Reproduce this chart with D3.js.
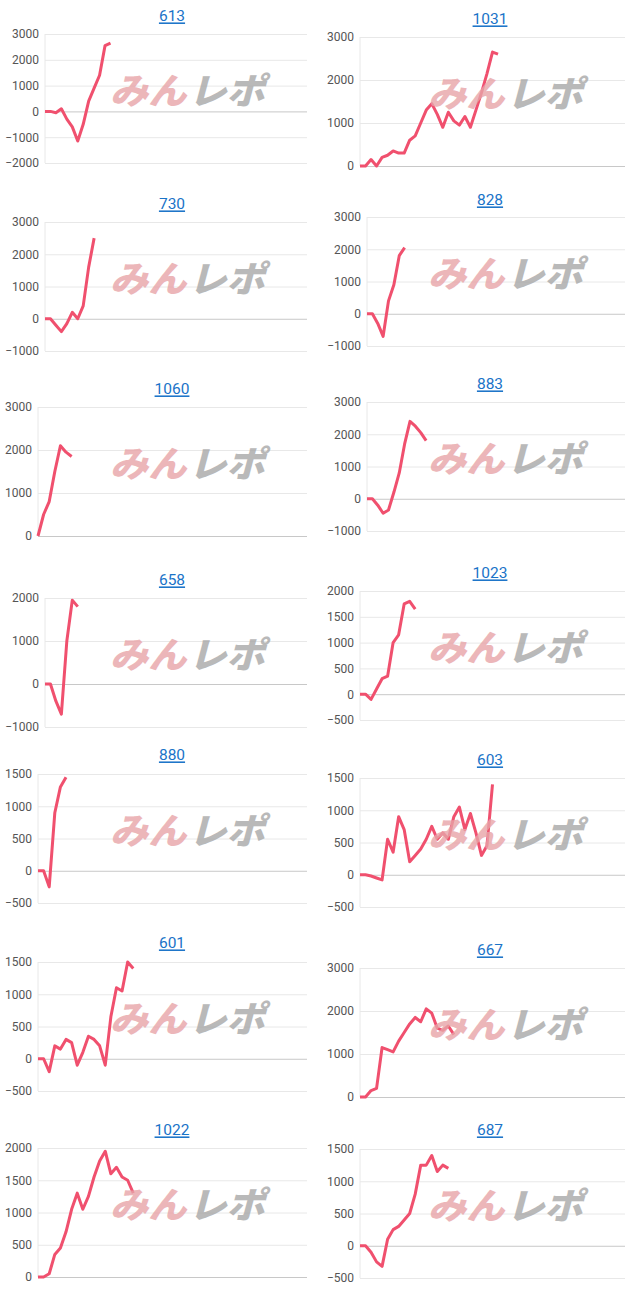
<!DOCTYPE html>
<html><head><meta charset="utf-8">
<script src="https://cdn.jsdelivr.net/npm/d3@7"></script>
<style>body{margin:0;background:#fff;font-family:Roboto,Arial,sans-serif}</style>
</head><body><svg id="c" width="640" height="1303"></svg>
<script>
const titles=["613","1031","730","828","1060","883","658","1023","880","603","601","667","1022","687"];
const s613=[0,0,-50,100,-300,-600,-1150,-500,400,900,1400,2550,2650];
const s1031=[0,0,150,0,200,250,350,300,300,600,700,1000,1300,1450,1200,900,1250,1050,950,1150,900,1300,1700,2150,2650,2600];
const s730=[0,0,-200,-400,-150,200,0,400,1600,2500];
const s828=[0,0,-300,-700,400,900,1800,2050];
const s1060=[0,500,800,1500,2100,1950,1850];
const s883=[0,0,-200,-450,-350,200,800,1700,2400,2250,2050,1800];
const s658=[0,0,-400,-700,1000,1950,1800];
const s1023=[0,0,-100,100,300,350,1000,1150,1750,1800,1650];
const s880=[0,0,-250,900,1300,1450];
const s603=[0,0,-20,-50,-80,550,350,900,700,200,300,400,550,750,550,650,550,900,1050,700,950,650,300,450,1400];
const s601=[0,0,-200,200,150,300,250,-100,100,350,300,200,-100,650,1100,1050,1500,1400];
const s667=[0,0,150,200,1150,1100,1050,1300,1500,1700,1850,1750,2050,1950,1600,1550,1650,1450];
const s1022=[0,0,50,350,450,700,1050,1300,1050,1250,1550,1800,1950,1600,1700,1550,1500,1300];
const s687=[0,0,-100,-250,-320,100,250,300,400,500,800,1250,1250,1400,1150,1250,1200];
const series=[s613,s1031,s730,s828,s1060,s883,s658,s1023,s880,s603,s601,s667,s1022,s687];
const yMax=[3000,3000,3000,3000,3000,3000,2000,2000,1500,1500,1500,3000,2000,1500];
const yMin=[-2000,0,-1000,-1000,0,-1000,-1000,-500,-500,-500,-500,0,0,-500];
const yStep=[1000,1000,1000,1000,1000,1000,1000,500,500,500,500,1000,500,500];
const titleY=[16,19,204,200,389,384,580,573,755,760,943,950,1130,1130];
const topY=[34,37,222,217,407,402,598,591,774,778,962,968,1148,1149];
const nSlots=49;
const svg=d3.select("#c");
series.forEach((data,i)=>{
  const col=i%2;
  const y=d3.scaleLinear().domain([yMin[i],yMax[i]]).range([topY[i]+129,topY[i]]);
  const ticks=d3.range(yMin[i],yMax[i]+1,yStep[i]);
  const maxLab=d3.max(ticks,t=>String(t).length);
  const left=(col?322:0)+maxLab*7+10;
  const right=(col?625:307);
  const x=d3.scaleLinear().domain([0,nSlots-1]).range([left,right]);
  const g=svg.append("g");
  g.append("text").attr("x",col?490:172).attr("y",titleY[i]).attr("dy","0.35em")
    .attr("text-anchor","middle").attr("font-size",15.5).attr("fill","#1a73c8")
    .attr("text-decoration","underline").text(titles[i]);
  const ax=d3.axisLeft(y).tickValues(ticks).tickSize(-(right-left)).tickPadding(6).tickFormat(d3.format("d"));
  const a=g.append("g").attr("transform",`translate(${left},0)`).call(ax);
  a.select(".domain").remove();
  a.selectAll("line").attr("stroke",d=>d===0?"#c8c8c8":"#e8e8e8");
  a.selectAll("text").attr("fill","#555").attr("font-size",12).attr("font-family","Roboto,Arial,sans-serif");
  g.append("line").attr("x1",left).attr("x2",left).attr("y1",topY[i]).attr("y2",topY[i]+129).attr("stroke","#e8e8e8");
  g.append("path").datum(data).attr("fill","none").attr("stroke","#f0506e").attr("stroke-width",3)
    .attr("stroke-linejoin","round").attr("d",d3.line().x((d,k)=>x(k)).y(d=>y(d)));
  const wy=topY[i]+70, wx=col?428:110;
  const w=g.append("text").attr("transform",`translate(${wx},${wy}) scale(1.06,1)`).attr("font-size",36).attr("font-weight",900)
    .attr("font-style","italic").attr("font-family","'Noto Sans CJK JP',sans-serif").attr("opacity",0.8);
  w.append("tspan").attr("fill","#e8a4a8").text("みん");
  w.append("tspan").attr("fill","#a8a8a8").attr("dx",2).text("レポ");
});
</script></body></html>
